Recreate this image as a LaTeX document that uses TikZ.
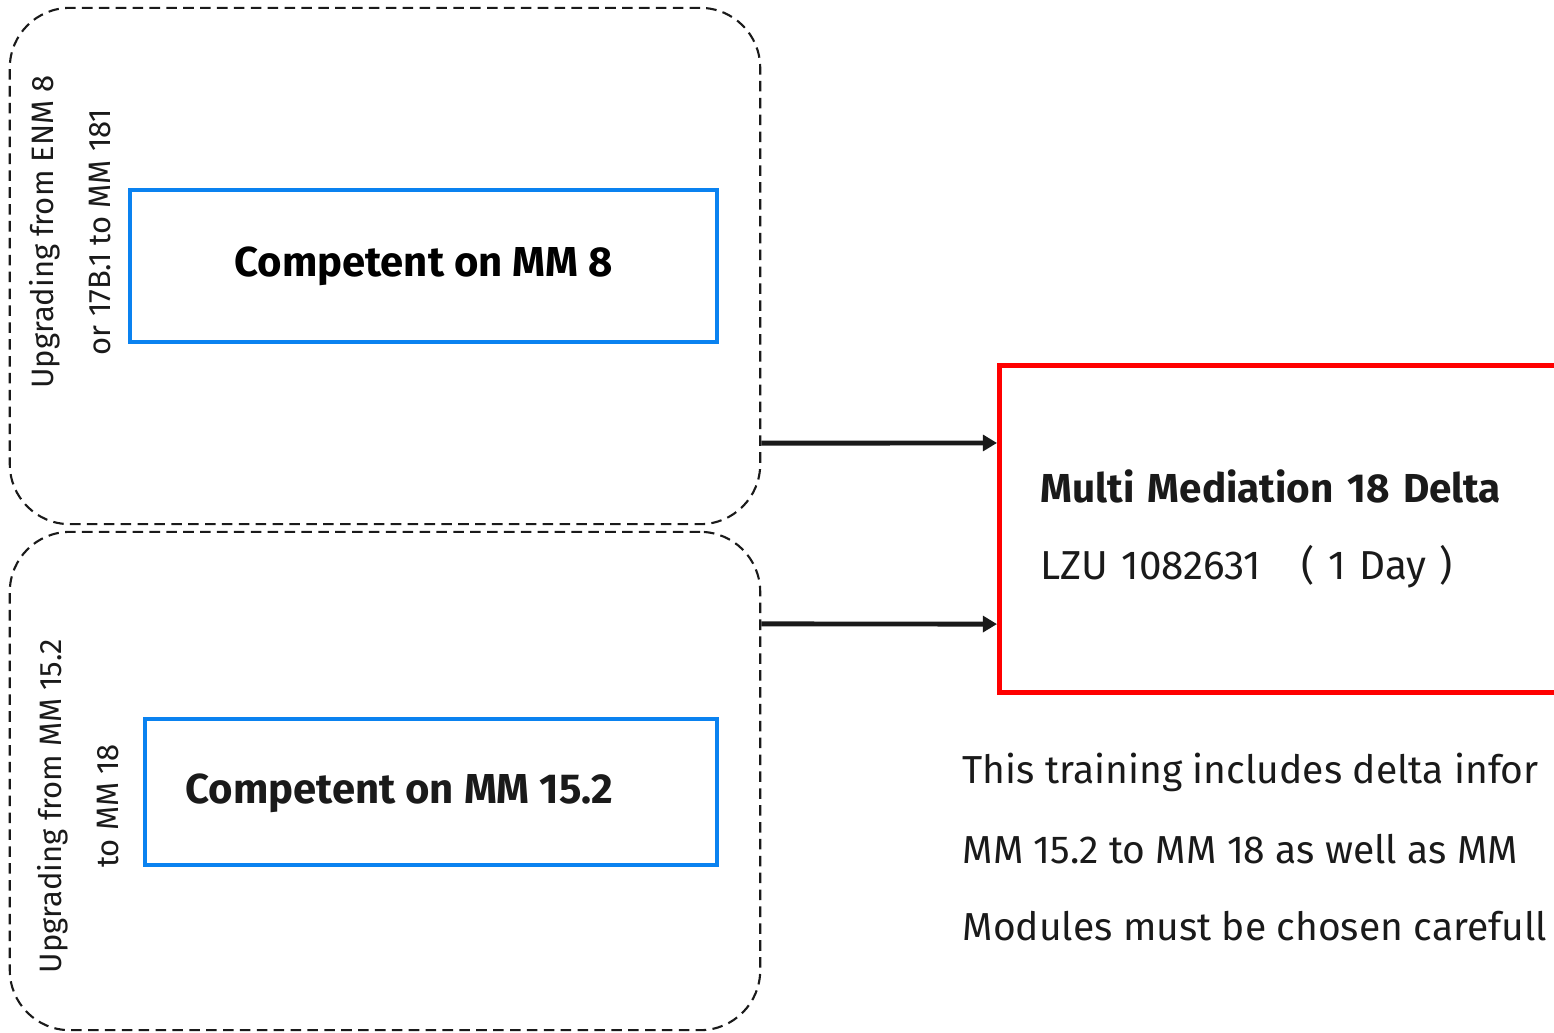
\documentclass[tikz,border=0pt]{standalone}
\usepackage{fontspec}
\setmainfont{Fira Sans}
\usetikzlibrary{arrows.meta}
\definecolor{boxblue}{RGB}{10,130,240}
\definecolor{boxred}{RGB}{255,0,0}
\definecolor{ink}{RGB}{26,26,26}
\begin{document}
\begin{tikzpicture}[x=0.01cm, y=-0.01cm,
  group/.style={draw=ink, line width=0.6pt, dash pattern=on 3pt off 1.8pt, rounded corners=0.6cm, minimum width=7.5cm, inner sep=0},
  compbox/.style={draw=boxblue, line width=1.3pt, inner sep=0, font=\fontsize{11.9}{14}\selectfont\bfseries},
  side/.style={rotate=90, align=center, text=ink, font=\fontsize{8.8}{16.3}\selectfont},
  flow/.style={draw=ink, line width=1.4pt, -{Triangle[length=4pt, width=4.5pt]}},
  note/.style={anchor=west, text=ink, inner sep=0, font=\fontsize{11.1}{14}\selectfont}]
\useasboundingbox (0,0) rectangle (1554,1032);
\clip (0,0) rectangle (1554,1032);

\node[group, minimum height=5.16cm] (upA) at (385,266) {};
\node[group, minimum height=4.98cm] (upB) at (385,781) {};

\node[side] (fromA) at (70,232) {Upgrading from ENM 8\\or 17B.1 to MM 181};
\node[side] (fromB) at (78,806) {Upgrading from MM 15.2\\to MM 18};

\node[compbox, minimum width=5.87cm, minimum height=1.52cm] (mm8) at (423.5,266) {Competent on MM 8};
\node[compbox, minimum width=5.72cm, minimum height=1.46cm] (mm15) at (431,792) {};
\node[anchor=west, text=ink, inner sep=0, font=\fontsize{11.9}{14}\selectfont\bfseries] (mm15txt) at (185,793) {Competent on MM 15.2};

\node[draw=boxred, line width=1.4pt, minimum width=6.5cm, minimum height=3.26cm, text width=5.68cm, inner xsep=0.41cm, align=left, text=ink, anchor=west, font=\fontsize{11.5}{14}\selectfont] (delta) at (997,529)
  {\textbf{Multi Mediation 18 Delta}\\[8pt]LZU 1082631~~~( 1 Day~)};

\draw[flow] ([yshift=-1.77cm]upA.east) -- ([yshift=0.86cm]delta.west);
\draw[flow] ([yshift=1.57cm]upB.east) -- ([yshift=-0.95cm]delta.west);

\node[note] (info1) at (962,772) {This training includes delta infor};
\node[note] (info2) at (962,849) {MM 15.2 to MM 18 as well as MM};
\node[note] (info3) at (962,926) {Modules must be chosen carefull};
\end{tikzpicture}
\end{document}
